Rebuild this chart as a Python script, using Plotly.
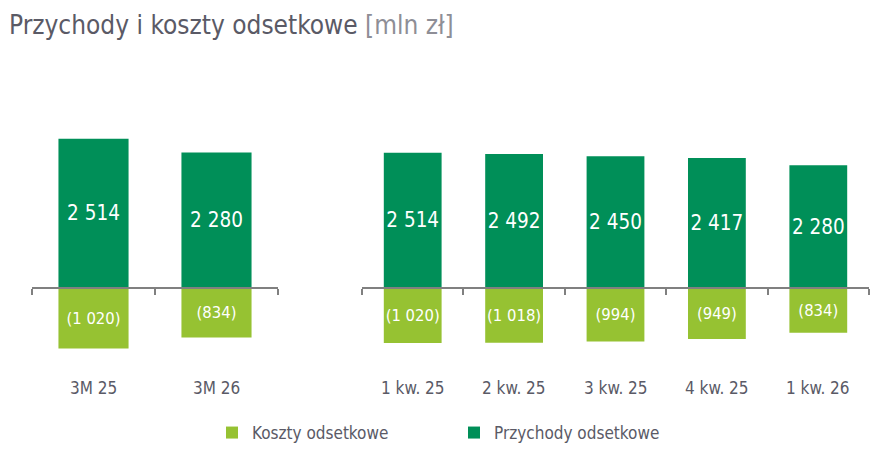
import plotly.graph_objects as go

# ---- data ----
cats_left = ["3M 25", "3M 26"]
income_left = [2514, 2280]
cost_left = [-1020, -834]

cats_right = ["1 kw. 25", "2 kw. 25", "3 kw. 25", "4 kw. 25", "1 kw. 26"]
income_right = [2514, 2492, 2450, 2417, 2280]
cost_right = [-1020, -1018, -994, -949, -834]

series_names = ["Koszty odsetkowe", "Przychody odsetkowe"]
title_main = "Przychody i koszty odsetkowe"
title_unit = "[mln zł]"

# ---- style ----
W, H = 892, 456
DARK = "#008F58"
LIGHT = "#96C232"
AXIS = "#808080"
TXT = "#5a5a66"
FONT = "DejaVu Sans Condensed, Liberation Sans, sans-serif"

def fmt(v):
    s = f"{abs(v):,}".replace(",", " ")
    return f"({s})" if v < 0 else s

# vertical pixel layout
y_top_px, y_bot_px, zero_px = 60, 372, 288
ydom = [1 - y_bot_px / H, 1 - y_top_px / H]
zero_frac = 1 - zero_px / H

def yrange(px_per_unit):
    return [-(y_bot_px - zero_px) / px_per_unit, (zero_px - y_top_px) / px_per_unit]

fig = go.Figure()

panels = [
    (cats_left, income_left, cost_left, "x", "y", 0.0594),
    (cats_right, income_right, cost_right, "x2", "y2", 0.0538),
]

for i, (cats, inc, cost, xa, ya, _) in enumerate(panels):
    xs = list(range(len(cats)))
    fig.add_trace(go.Bar(
        x=xs, y=cost, name=series_names[0], marker_color=LIGHT, marker_line_width=0,
        text=[fmt(v) for v in cost], textposition="inside", insidetextanchor="middle",
        textangle=0, constraintext="none",
        textfont=dict(color="white", size=16.5, family=FONT),
        xaxis=xa, yaxis=ya, showlegend=(i == 0), legendgroup="k", hoverinfo="skip"))
    fig.add_trace(go.Bar(
        x=xs, y=inc, name=series_names[1], marker_color=DARK, marker_line_width=0,
        text=[fmt(v) for v in inc], textposition="inside", insidetextanchor="middle",
        textangle=0, constraintext="none",
        textfont=dict(color="white", size=20.5, family=FONT),
        xaxis=xa, yaxis=ya, showlegend=(i == 0), legendgroup="p", hoverinfo="skip"))

def xaxis_cfg(n, dom_px):
    eps = 1e-6
    return dict(
        domain=[dom_px[0] / W, dom_px[1] / W],
        range=[-0.5 - eps, n - 0.5 + eps],
        anchor="free", position=zero_frac,
        showline=True, linecolor=AXIS, linewidth=2,
        ticks="outside", ticklen=6, tickwidth=2, tickcolor=AXIS,
        tickvals=[k - 0.5 for k in range(n + 1)], showticklabels=False,
        showgrid=False, zeroline=False, fixedrange=True,
    )

fig.update_layout(
    width=W, height=H,
    margin=dict(l=0, r=0, t=0, b=0),
    paper_bgcolor="white", plot_bgcolor="white",
    barmode="relative", bargap=0.43,
    font=dict(family=FONT, color=TXT),
    xaxis=xaxis_cfg(len(cats_left), (32, 278)),
    xaxis2=xaxis_cfg(len(cats_right), (362, 869)),
    yaxis=dict(domain=ydom, range=yrange(panels[0][5]), visible=False, anchor="x", fixedrange=True),
    yaxis2=dict(domain=ydom, range=yrange(panels[1][5]), visible=False, anchor="x2", fixedrange=True),
    legend=dict(orientation="h", x=212 / W, xanchor="left", y=1 - 433 / H, yanchor="middle",
                font=dict(size=17, color=TXT, family=FONT),
                entrywidth=197, entrywidthmode="pixels", traceorder="normal",
                bgcolor="rgba(0,0,0,0)"),
    showlegend=True,
)

# title
fig.add_annotation(
    text=f"{title_main} <span style='color:#8e8e96'>{title_unit}</span>",
    xref="paper", yref="paper", x=7 / W, y=1 - 25 / H, xanchor="left", yanchor="middle",
    showarrow=False, font=dict(size=26, color=TXT, family=FONT))

# category labels
for cats, xa in [(cats_left, "x"), (cats_right, "x2")]:
    for k, c in enumerate(cats):
        fig.add_annotation(text=c, x=k, xref=xa, y=1 - 388 / H, yref="paper",
                           yanchor="middle", showarrow=False,
                           font=dict(size=17, color=TXT, family=FONT))

fig.write_html("out.html")
